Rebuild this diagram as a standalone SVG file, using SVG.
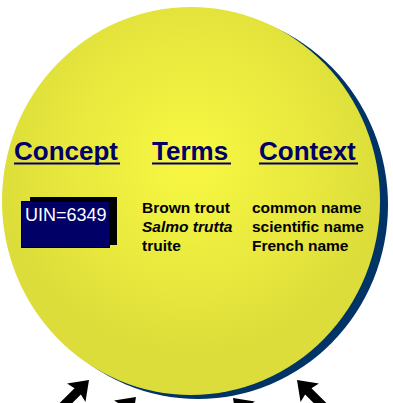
<svg xmlns="http://www.w3.org/2000/svg" width="393" height="403" viewBox="0 0 393 403">
  <defs>
    <radialGradient id="yel" cx="190" cy="160" r="200" gradientUnits="userSpaceOnUse">
      <stop offset="0" stop-color="#f8f843"/>
      <stop offset="0.6" stop-color="#e8e83e"/>
      <stop offset="1" stop-color="#dcdc3a"/>
    </radialGradient>
    <style>
      .hd { font-family: "Liberation Sans", Arial, sans-serif; font-weight: bold; font-size: 26px; fill: #000066; }
      .ul { stroke: #000066; stroke-width: 2.2; }
      .tx { font-family: "Liberation Sans", Arial, sans-serif; font-weight: bold; font-size: 15.5px; fill: #000; }
      .arrow { fill: #000; }
    </style>
  </defs>
  <g id="sphere">
    <ellipse cx="198" cy="205" rx="190" ry="194" fill="#003366"/>
    <ellipse cx="191" cy="201" rx="189" ry="194" fill="url(#yel)"/>
  </g>
  <g id="headers">
    <text class="hd" x="14" y="160">Concept</text>
    <line class="ul" x1="14" y1="163.5" x2="120" y2="163.5"/>
    <text class="hd" x="152" y="160">Terms</text>
    <line class="ul" x1="152" y1="163.5" x2="231" y2="163.5"/>
    <text class="hd" x="259" y="160">Context</text>
    <line class="ul" x1="259" y1="163.5" x2="358" y2="163.5"/>
  </g>
  <g id="concept">
    <rect x="30" y="197" width="87" height="48" fill="#000"/>
    <rect x="21.5" y="201.5" width="88" height="46" fill="#000066" stroke="#000" stroke-width="1"/>
    <text x="25" y="221" font-family="Liberation Sans, Arial, sans-serif" font-size="18" fill="#fff">UIN=6349</text>
  </g>
  <g id="terms">
    <text class="tx" x="142" y="213">Brown trout</text>
    <text class="tx" x="142" y="232" font-style="italic">Salmo trutta</text>
    <text class="tx" x="142" y="251">truite</text>
  </g>
  <g id="context">
    <text class="tx" x="252" y="213">common name</text>
    <text class="tx" x="252" y="232">scientific name</text>
    <text class="tx" x="252" y="251">French name</text>
  </g>
  <g id="connectors">
    <g transform="translate(89,380) rotate(135)">
      <polygon class="arrow" points="0,0 18,-13 16,-4.5 40,-4.5 40,4.5 16,4.5 18,13"/>
    </g>
    <g transform="translate(297,380) rotate(45)">
      <polygon class="arrow" points="0,0 18,-13 16,-4.5 40,-4.5 40,4.5 16,4.5 18,13"/>
    </g>
    <g transform="translate(136,397) rotate(135)">
      <polygon class="arrow" points="0,0 18,-13 16,-4.5 40,-4.5 40,4.5 16,4.5 18,13"/>
    </g>
    <g transform="translate(233,398) rotate(45)">
      <polygon class="arrow" points="0,0 18,-13 16,-4.5 40,-4.5 40,4.5 16,4.5 18,13"/>
    </g>
  </g>
</svg>
